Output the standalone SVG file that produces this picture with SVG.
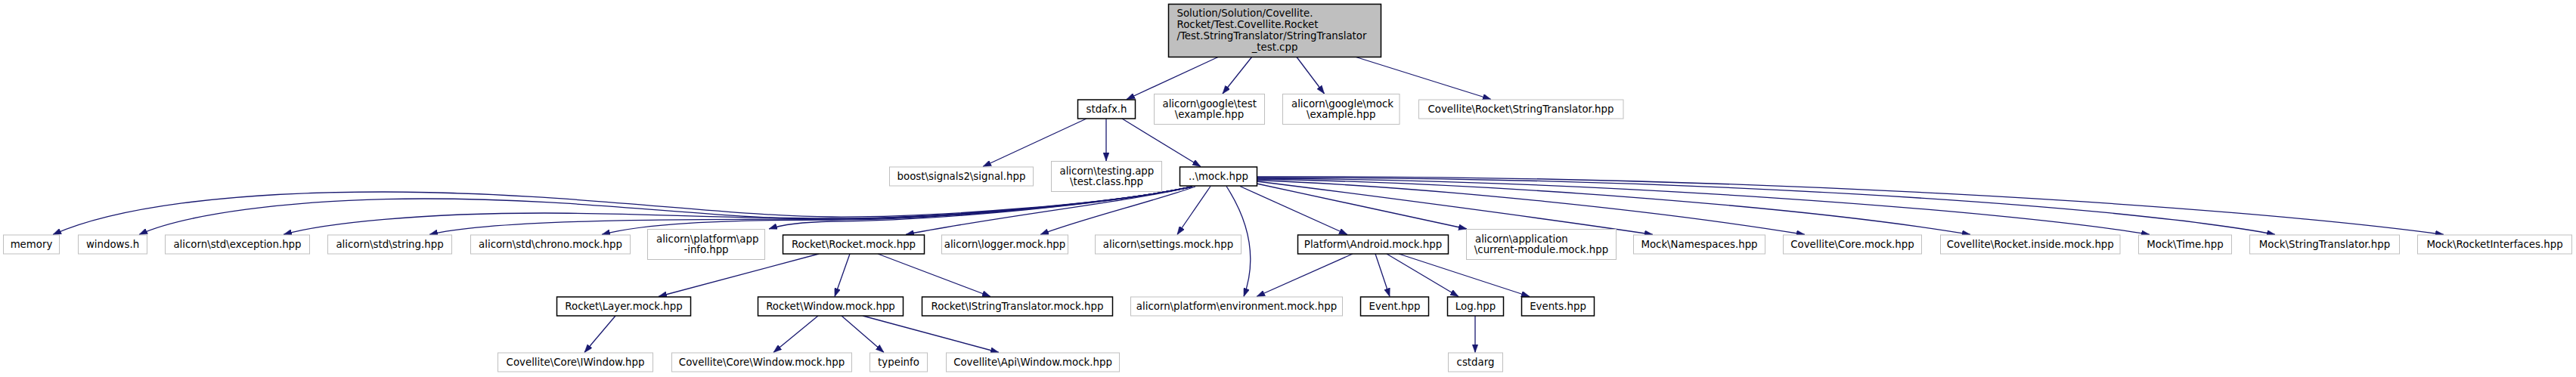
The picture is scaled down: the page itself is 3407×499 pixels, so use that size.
<svg xmlns="http://www.w3.org/2000/svg" width="3407" height="499" viewBox="0 0 3407 499">
<style>
.n rect{fill:#fff;stroke:#bfbfbf;stroke-width:1}
.n.b rect{stroke:#000;stroke-width:1.5}
.n.r rect{fill:#bfbfbf;stroke:#000;stroke-width:1.5}
text{font-family:"DejaVu Sans","Liberation Sans",sans-serif;font-size:13.33px;fill:#000}
.c{text-anchor:middle}
.l{text-anchor:start}
.e{fill:none;stroke:#191970;stroke-width:1.3;marker-end:url(#ah)}
</style>
<defs>
<marker id="ah" markerUnits="userSpaceOnUse" viewBox="0 0 11 8" refX="11" refY="4" markerWidth="11" markerHeight="8" orient="auto">
<path d="M0,0 L11,4 L0,8 z" fill="#191970" stroke="#191970" stroke-width="0.5"/>
</marker>
</defs>
<rect width="3407" height="499" fill="#fff"/>
<g id="edges">
<path class="e" d="M1611,75.5 L1490,131.5"/>
<path class="e" d="M1655.6,75.5 L1617,124"/>
<path class="e" d="M1715,75.5 L1751.5,124"/>
<path class="e" d="M1793.4,75.5 L1972,131.5"/>
<path class="e" d="M1437,157 L1300,220.5"/>
<path class="e" d="M1463,157 L1463,213"/>
<path class="e" d="M1484,157 L1588,220.5"/>
<path class="e" d="M1577,247 C1480,268 1250,288 1100,287 C950,286 750,254 505,254 C300,254 150,275 70,310.5"/>
<path class="e" d="M1577,247 C1480,268 1250,289 1100,290 C950,291 780,263 561,263 C380,263 240,285 184,310.5"/>
<path class="e" d="M1577,247 C1480,268 1250,289 1100,289 C950,289 850,282 720,282 C560,282 430,295 375,310.5"/>
<path class="e" d="M1577,247 C1480,268 1250,290 1100,290 C900,290 650,290 568,310.5"/>
<path class="e" d="M1577,247 C1480,268 1250,291 1100,291 C950,291 850,296 796,310.5"/>
<path class="e" d="M1577,247 C1480,268 1250,292 1100,293 C1060,294 1035,297 1017,303"/>
<path class="e" d="M1574,247.5 C1500,266 1320,286 1198,310.5"/>
<path class="e" d="M1581,247 C1520,268 1430,290 1376,310.5"/>
<path class="e" d="M1601,246.5 L1557,310.5"/>
<path class="e" d="M1622,246.5 C1650,290 1664,340 1645,392.5"/>
<path class="e" d="M1640,246.5 L1782,310.5"/>
<path class="e" d="M1662,243 L1940,303"/>
<path class="e" d="M1662,240 C1800,257 2050,290 2186,310.5"/>
<path class="e" d="M1662,238.5 C1900,248 2200,280 2387,310.5"/>
<path class="e" d="M1662,237 C2000,243 2400,276 2606,310.5"/>
<path class="e" d="M1662,236 C2100,238 2650,278 2843,310.5"/>
<path class="e" d="M1662,235 C2200,234 2800,270 3009,310.5"/>
<path class="e" d="M1662,234 C2300,231 2950,272 3232,310.5"/>
<path class="e" d="M1083,336 L871,392.5"/>
<path class="e" d="M1124,336 L1104,392.5"/>
<path class="e" d="M1161,336 L1310,392.5"/>
<path class="e" d="M1789,336 L1662,392.5"/>
<path class="e" d="M1819,336 L1838,392.5"/>
<path class="e" d="M1834,336 L1929,392.5"/>
<path class="e" d="M1850,336 L2023,392.5"/>
<path class="e" d="M814,418 L773,466.5"/>
<path class="e" d="M1082,418 L1023,466.5"/>
<path class="e" d="M1113,418 L1169,466.5"/>
<path class="e" d="M1141,418 L1321,466.5"/>
<path class="e" d="M1951,418 L1951,466.5"/>
</g>
<g id="n-root" class="n r"><rect x="1545.5" y="5.5" width="281" height="70"/>
<text class="l" x="1556.5" y="21.8">Solution/Solution/Covellite.</text>
<text class="l" x="1556.5" y="36.8">Rocket/Test.Covellite.Rocket</text>
<text class="l" x="1556.5" y="51.8">/Test.StringTranslator/StringTranslator</text>
<text class="c" x="1686" y="66.8">_test.cpp</text></g>
<g id="n-stdafx" class="n b"><rect x="1425.5" y="132" width="76" height="25"/><text class="c" x="1463.5" y="149.2">stdafx.h</text></g>
<g id="n-gtest" class="n"><rect x="1526.5" y="124.5" width="146" height="40"/><text class="l" x="1537.5" y="141.9">alicorn\google\test</text><text class="c" x="1599.5" y="156.4">\example.hpp</text></g>
<g id="n-gmock" class="n"><rect x="1696.5" y="124.5" width="154.5" height="40"/><text class="l" x="1708" y="141.9">alicorn\google\mock</text><text class="c" x="1773.75" y="156.4">\example.hpp</text></g>
<g id="n-strtr" class="n"><rect x="1876.5" y="132" width="270.5" height="25"/><text class="c" x="2011.5" y="149.2">Covellite\Rocket\StringTranslator.hpp</text></g>
<g id="n-boost" class="n"><rect x="1176.5" y="221" width="190" height="25"/><text class="c" x="1271.5" y="238.2">boost\signals2\signal.hpp</text></g>
<g id="n-testing" class="n"><rect x="1390.5" y="213.5" width="146" height="40"/><text class="l" x="1401.5" y="230.9">alicorn\testing.app</text><text class="c" x="1463.5" y="245.4">\test.class.hpp</text></g>
<g id="n-mock" class="n b"><rect x="1560.5" y="221" width="102" height="25"/><text class="c" x="1611.5" y="238.2">..\mock.hpp</text></g>
<g id="n-memory" class="n"><rect x="4.5" y="311" width="74" height="25"/><text class="c" x="41.5" y="328.2">memory</text></g>
<g id="n-windows" class="n"><rect x="103.5" y="311" width="91" height="25"/><text class="c" x="149" y="328.2">windows.h</text></g>
<g id="n-exception" class="n"><rect x="218.5" y="311" width="191" height="25"/><text class="c" x="314" y="328.2">alicorn\std\exception.hpp</text></g>
<g id="n-string" class="n"><rect x="433.5" y="311" width="164" height="25"/><text class="c" x="515.5" y="328.2">alicorn\std\string.hpp</text></g>
<g id="n-chrono" class="n"><rect x="622.5" y="311" width="211" height="25"/><text class="c" x="728" y="328.2">alicorn\std\chrono.mock.hpp</text></g>
<g id="n-appinfo" class="n"><rect x="856.5" y="303.5" width="155" height="40"/><text class="l" x="868" y="320.9">alicorn\platform\app</text><text class="c" x="934" y="335.4">-info.hpp</text></g>
<g id="n-rocketmock" class="n b"><rect x="1035.5" y="311" width="187" height="25"/><text class="c" x="1129" y="328.2">Rocket\Rocket.mock.hpp</text></g>
<g id="n-logger" class="n"><rect x="1245.5" y="311" width="167" height="25"/><text class="c" x="1329" y="328.2">alicorn\logger.mock.hpp</text></g>
<g id="n-settings" class="n"><rect x="1448.5" y="311" width="193" height="25"/><text class="c" x="1545" y="328.2">alicorn\settings.mock.hpp</text></g>
<g id="n-android" class="n b"><rect x="1716.5" y="311" width="199" height="25"/><text class="c" x="1816" y="328.2">Platform\Android.mock.hpp</text></g>
<g id="n-curmod" class="n"><rect x="1939.5" y="303.5" width="198" height="40"/><text class="l" x="1951" y="320.9">alicorn\application</text><text class="c" x="2038.5" y="335.4">\current-module.mock.hpp</text></g>
<g id="n-namespaces" class="n"><rect x="2160.5" y="311" width="174" height="25"/><text class="c" x="2247.5" y="328.2">Mock\Namespaces.hpp</text></g>
<g id="n-coremock" class="n"><rect x="2358.5" y="311" width="183" height="25"/><text class="c" x="2450" y="328.2">Covellite\Core.mock.hpp</text></g>
<g id="n-rinside" class="n"><rect x="2566.5" y="311" width="237.5" height="25"/><text class="c" x="2685.25" y="328.2">Covellite\Rocket.inside.mock.hpp</text></g>
<g id="n-time" class="n"><rect x="2828.5" y="311" width="123" height="25"/><text class="c" x="2890" y="328.2">Mock\Time.hpp</text></g>
<g id="n-mstrtr" class="n"><rect x="2975.5" y="311" width="198" height="25"/><text class="c" x="3074.5" y="328.2">Mock\StringTranslator.hpp</text></g>
<g id="n-rint" class="n"><rect x="3197.5" y="311" width="204" height="25"/><text class="c" x="3299.5" y="328.2">Mock\RocketInterfaces.hpp</text></g>
<g id="n-layer" class="n b"><rect x="736.5" y="393" width="177" height="25"/><text class="c" x="825" y="410.2">Rocket\Layer.mock.hpp</text></g>
<g id="n-window" class="n b"><rect x="1002.5" y="393" width="192" height="25"/><text class="c" x="1098.5" y="410.2">Rocket\Window.mock.hpp</text></g>
<g id="n-istr" class="n b"><rect x="1219.5" y="393" width="252" height="25"/><text class="c" x="1345.5" y="410.2">Rocket\IStringTranslator.mock.hpp</text></g>
<g id="n-env" class="n"><rect x="1495.5" y="393" width="280" height="25"/><text class="c" x="1635.5" y="410.2">alicorn\platform\environment.mock.hpp</text></g>
<g id="n-event" class="n b"><rect x="1799.5" y="393" width="90" height="25"/><text class="c" x="1844.5" y="410.2">Event.hpp</text></g>
<g id="n-log" class="n b"><rect x="1914.5" y="393" width="74" height="25"/><text class="c" x="1951.5" y="410.2">Log.hpp</text></g>
<g id="n-events" class="n b"><rect x="2012.5" y="393" width="96" height="25"/><text class="c" x="2060.5" y="410.2">Events.hpp</text></g>
<g id="n-iwindow" class="n"><rect x="658.5" y="467" width="205" height="25"/><text class="c" x="761" y="484.2">Covellite\Core\IWindow.hpp</text></g>
<g id="n-corewin" class="n"><rect x="888.5" y="467" width="238" height="25"/><text class="c" x="1007.5" y="484.2">Covellite\Core\Window.mock.hpp</text></g>
<g id="n-typeinfo" class="n"><rect x="1150.5" y="467" width="76" height="25"/><text class="c" x="1188.5" y="484.2">typeinfo</text></g>
<g id="n-apiwin" class="n"><rect x="1251.5" y="467" width="229" height="25"/><text class="c" x="1366" y="484.2">Covellite\Api\Window.mock.hpp</text></g>
<g id="n-cstdarg" class="n"><rect x="1915.5" y="467" width="72" height="25"/><text class="c" x="1951.5" y="484.2">cstdarg</text></g>
</svg>
